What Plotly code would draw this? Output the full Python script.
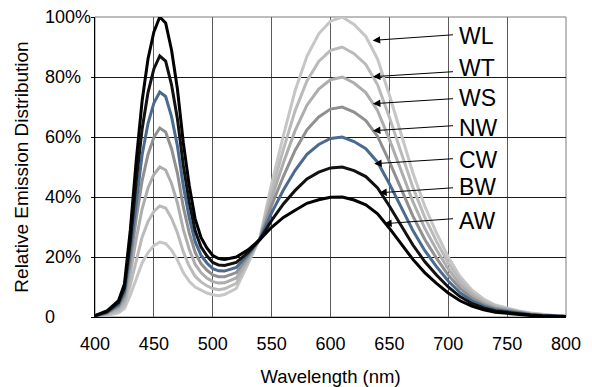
import plotly.graph_objects as go

wavelength = [400, 410, 420, 425, 430, 435, 440, 445, 450, 455, 460, 465, 470,
              475, 480, 485, 490, 495, 500, 505, 510,
              520, 530, 540, 550, 560, 570, 580, 590, 600, 610, 620, 630, 640, 650,
              660, 670, 680, 690, 700, 710, 720, 730, 740, 750, 760, 770, 780, 790, 800]

AW = [0.5, 2, 5.5, 11, 29, 52, 72, 86, 95, 100, 98, 89, 76,
      58.1, 43.9, 32.8, 26.5, 23, 20.5, 19.5, 19.2,
      20, 22.4, 25.8, 29.9, 33.2, 35.6, 37.9, 39.1, 39.9, 40, 39, 37.4, 34.4, 29.6,
      24.4, 19.2, 14.8, 11.2, 8, 5.4, 3.6, 2.4, 1.6, 1.2, 0.8, 0.5, 0.3, 0.2, 0.1]
BW = [0.4, 1.7, 4.8, 9.6, 25.2, 45.2, 62.6, 74.8, 82.7, 87, 85.3, 77.4, 66.1,
      50.6, 38.3, 28.8, 23.4, 20.4, 18.2, 17.3, 17.2,
      18.2, 21.5, 25.8, 32.2, 37.7, 42.2, 46, 48.3, 49.7, 50, 48.8, 46.8, 43, 37,
      30.5, 24, 18.5, 14, 10, 6.8, 4.5, 3, 2, 1.5, 1, 0.7, 0.4, 0.25, 0.15]
CW = [0.4, 1.5, 4.1, 8.3, 21.8, 39, 54, 64.5, 71.3, 75, 73.5, 66.8, 57,
      43.7, 33.2, 25.2, 20.6, 18, 16.1, 15.4, 15.3,
      16.5, 20.9, 26, 34.7, 42.3, 48.9, 54.2, 57.5, 59.5, 60, 58.5, 56.1, 51.6, 44.4,
      36.6, 28.8, 22.2, 16.8, 12, 8.1, 5.4, 3.6, 2.4, 1.8, 1.2, 0.8, 0.5, 0.3, 0.2]
NW = [0.3, 1.3, 3.5, 6.9, 18.3, 32.8, 45.4, 54.2, 59.9, 63, 61.7, 56.1, 47.9,
      36.7, 28.1, 21.6, 17.8, 15.6, 14, 13.4, 13.4,
      14.8, 20.2, 26.1, 37.2, 46.9, 55.6, 62.4, 66.7, 69.3, 70, 68.3, 65.5, 60.2, 51.8,
      42.7, 33.6, 25.9, 19.6, 14, 9.5, 6.3, 4.2, 2.8, 2.1, 1.4, 0.9, 0.6, 0.35, 0.2]
WS = [0.3, 1, 2.8, 5.5, 14.5, 26, 36, 43, 47.5, 50, 49, 44.5, 38,
      29.2, 22.6, 17.6, 14.8, 13, 11.8, 11.3, 11.4,
      13, 19.3, 26.1, 39.6, 51.4, 62.2, 70.6, 76, 79.1, 80, 78, 74.8, 68.8, 59.2,
      48.8, 38.4, 29.6, 22.4, 16, 10.8, 7.2, 4.8, 3.2, 2.4, 1.6, 1, 0.6, 0.4, 0.25]
WT = [0.2, 0.7, 2, 4.1, 10.7, 19.2, 26.6, 31.8, 35.2, 37, 36.3, 32.9, 28.1,
      21.7, 17, 13.6, 11.7, 10.4, 9.5, 9.1, 9.4,
      11.2, 18.4, 26.1, 41.9, 55.9, 68.8, 78.7, 85.2, 88.9, 90, 87.8, 84.2, 77.4, 66.6,
      54.9, 43.2, 33.3, 25.2, 18, 12.2, 8.1, 5.4, 3.6, 2.7, 1.8, 1.2, 0.7, 0.45, 0.3]
WL = [0.1, 0.5, 1.4, 2.8, 7.3, 13, 18, 21.5, 23.8, 25, 24.5, 22.3, 19,
      14.8, 11.9, 10, 8.9, 8, 7.4, 7.1, 7.5,
      9.5, 17.8, 26.3, 44.4, 60.5, 75.5, 86.9, 94.4, 98.6, 100, 97.5, 93.5, 86, 74,
      61, 48, 37, 28, 20, 13.5, 9, 6, 4, 3, 2, 1.3, 0.8, 0.5, 0.3]

series_names = ["WL", "WT", "WS", "NW", "CW", "BW", "AW"]
series_values = [WL, WT, WS, NW, CW, BW, AW]
series_colors = ["#c6c6c6", "#bababa", "#adadad", "#909090", "#4a6b8f", "#111111", "#000000"]

y_ticks = [0, 20, 40, 60, 80, 100]
y_tick_labels = ["0", "20%", "40%", "60%", "80%", "100%"]
x_ticks = [400, 450, 500, 550, 600, 650, 700, 750, 800]

# label layout: (name, arrow head x, arrow head y, tail y, text y)
label_pos = [
    ("WL", 635.8, 92.2, 94.1, 93.8),
    ("WT", 636.0, 80.1, 81.8, 83.1),
    ("WS", 636.0, 71.1, 72.8, 72.9),
    ("NW", 636.0, 62.1, 63.8, 63.1),
    ("CW", 637.1, 51.1, 52.8, 52.4),
    ("BW", 641.4, 41.4, 43.1, 43.4),
    ("AW", 645.6, 31.1, 32.8, 32.1),
]

FONT = "Liberation Sans, Arial, sans-serif"

fig = go.Figure()
for name, vals, col in zip(series_names, series_values, series_colors):
    fig.add_trace(go.Scatter(x=wavelength, y=vals, mode="lines", name=name,
                             line=dict(color=col, width=3), showlegend=False))

annotations = []
for name, hx, hy, ty, texty in label_pos:
    annotations.append(dict(x=hx, y=hy, xref="x", yref="y", ax=705.3, ay=ty,
                            axref="x", ayref="y", text="", showarrow=True,
                            arrowhead=2, arrowsize=1.5, arrowwidth=1,
                            arrowcolor="#000000", standoff=0, startstandoff=0))
    annotations.append(dict(x=707.5, y=texty, xref="x", yref="y", text=name,
                            showarrow=False, xanchor="left", yanchor="middle",
                            font=dict(family=FONT, size=23, color="#000000")))
for v, t in zip(y_ticks, y_tick_labels):
    annotations.append(dict(x=-0.1104, y=v, xref="paper", yref="y", text=t,
                            showarrow=False, xanchor="left", yanchor="middle",
                            font=dict(family=FONT, size=18, color="#000000")))

fig.update_layout(
    width=584, height=379,
    margin=dict(l=87, r=26, t=9, b=70),
    paper_bgcolor="white", plot_bgcolor="white",
    font=dict(family=FONT, size=18, color="#000000"),
    annotations=annotations,
    xaxis=dict(range=[400, 800], tickvals=x_ticks, showgrid=True, automargin=False,
               gridcolor="#5a5a5a", gridwidth=1, showline=True, linecolor="#000000",
               linewidth=1, mirror=False, ticks="", ticklabelstandoff=10,
               tickfont=dict(family=FONT, size=18),
               title=dict(text="Wavelength (nm)", standoff=18,
                          font=dict(family=FONT, size=18.5)),
               zeroline=False),
    yaxis=dict(range=[0, 100], tickvals=y_ticks, showticklabels=False, showgrid=True,
               automargin=False,
               gridcolor="#1a1a1a", gridwidth=1, showline=True, linecolor="#000000",
               linewidth=1, ticks="outside", ticklen=3, tickcolor="#000000",
               title=dict(text="Relative Emission Distribution", standoff=57,
                          font=dict(family=FONT, size=19)),
               zeroline=False),
    shapes=[dict(type="rect", xref="paper", yref="paper", x0=0, y0=0, x1=1, y1=1,
                 line=dict(color="#7a7a7a", width=1), layer="below")],
)

fig.write_html("out.html")
